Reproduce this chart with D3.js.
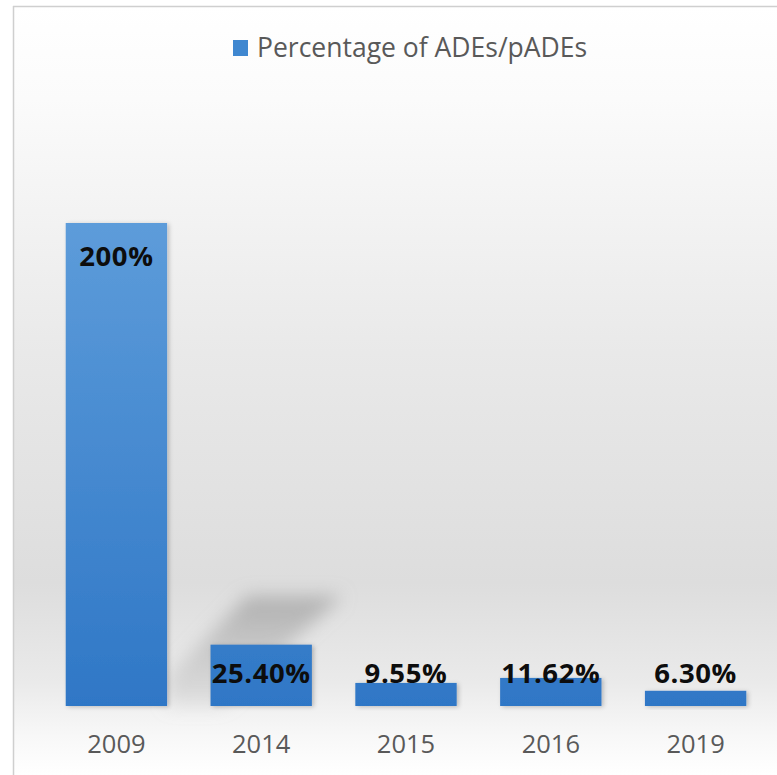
<!DOCTYPE html>
<html>
<head>
<meta charset="utf-8">
<script src="https://cdn.jsdelivr.net/npm/d3@7"></script>
<style>
  html, body { margin: 0; padding: 0; background: #ffffff; }
  svg { display: block; }
</style>
</head>
<body>
<svg id="chart" width="777" height="775"></svg>
<script>
// ---- data ----
const years = ["2009", "2014", "2015", "2016", "2019"];
const percentages = [200, 25.40, 9.55, 11.62, 6.30];
const valueLabels = ["200%", "25.40%", "9.55%", "11.62%", "6.30%"];
const seriesName = "Percentage of ADEs/pADEs";

const W = 777, H = 775;
const svg = d3.select("#chart");
const defs = svg.append("defs");

// background gradient
const bg = defs.append("linearGradient").attr("id", "bgGrad")
  .attr("x1", 0).attr("y1", 0).attr("x2", 0).attr("y2", 1);
[[0, "#ffffff"], [0.12, "#fbfbfb"], [0.45, "#e9e9e9"], [0.75, "#dddddd"], [0.88, "#eaeaea"], [0.95, "#f8f8f8"], [1, "#ffffff"]]
  .forEach(([o, c]) => bg.append("stop").attr("offset", o).attr("stop-color", c));

// bar gradient
const bgBar = defs.append("linearGradient").attr("id", "barGrad")
  .attr("gradientUnits", "userSpaceOnUse")
  .attr("x1", 0).attr("y1", 223).attr("x2", 0).attr("y2", 706);
bgBar.append("stop").attr("offset", 0).attr("stop-color", "#5d9cda");
bgBar.append("stop").attr("offset", 1).attr("stop-color", "#2f77c6");

// shadow gradient
const sg = defs.append("linearGradient").attr("id", "shGrad")
  .attr("x1", 0).attr("y1", 0).attr("x2", 0).attr("y2", 1);
sg.append("stop").attr("offset", 0).attr("stop-color", "#9a9a9a").attr("stop-opacity", 0.7);
sg.append("stop").attr("offset", 1).attr("stop-color", "#bdbdbd").attr("stop-opacity", 0.3);

const blur = defs.append("filter").attr("id", "blur")
  .attr("x", "-30%").attr("y", "-30%").attr("width", "160%").attr("height", "160%");
blur.append("feGaussianBlur").attr("stdDeviation", 9);

const drop = defs.append("filter").attr("id", "drop")
  .attr("x", "-20%").attr("y", "-20%").attr("width", "140%").attr("height", "140%");
drop.append("feDropShadow").attr("dx", 2).attr("dy", 1).attr("stdDeviation", 2)
  .attr("flood-color", "#000").attr("flood-opacity", 0.22);

// chart area background + border
svg.append("rect").attr("x", 13).attr("y", 6).attr("width", W - 13).attr("height", H - 6)
  .attr("fill", "url(#bgGrad)");
svg.append("line").attr("x1", 13).attr("y1", 6.5).attr("x2", W).attr("y2", 6.5)
  .attr("stroke", "#cfcfcf").attr("stroke-width", 1.5);
svg.append("line").attr("x1", 13.5).attr("y1", 6).attr("x2", 13.5).attr("y2", H)
  .attr("stroke", "#cfcfcf").attr("stroke-width", 1.5);

// scales
const x = d3.scaleBand().domain(years).range([44, 768]).paddingInner(0.3).paddingOuter(0.15);
const y = d3.scaleLinear().domain([0, 200]).range([706, 223]);

// oblique shadow of the tallest bar
const b0 = x(years[0]) + x.bandwidth();
svg.append("path")
  .attr("d", `M${b0},${y(0)} L${b0},${y(0) - 28} L${b0 + 80},${y(0) - 110} L${b0 + 175},${y(0) - 110} L${b0 + 55},${y(0)} Z`)
  .attr("fill", "url(#shGrad)")
  .attr("filter", "url(#blur)");

// bars
const data = years.map((yr, i) => ({ yr, v: percentages[i], label: valueLabels[i] }));
svg.append("g").selectAll("rect").data(data).join("rect")
  .attr("x", d => x(d.yr))
  .attr("y", d => y(d.v))
  .attr("width", x.bandwidth())
  .attr("height", d => y(0) - y(d.v))
  .attr("fill", "url(#barGrad)")
  .attr("filter", "url(#drop)");

// value labels
svg.append("g").selectAll("text").data(data).join("text")
  .attr("x", d => x(d.yr) + x.bandwidth() / 2)
  .attr("y", d => Math.min(y(d.v) + 43, y(0) - 23))
  .attr("text-anchor", "middle")
  .attr("font-family", "'Open Sans', sans-serif")
  .attr("font-weight", "bold")
  .attr("font-size", 27.5)
  .attr("letter-spacing", 0.6)
  .attr("fill", "#0d0d0d")
  .text(d => d.label);

// x axis
const xAxis = svg.append("g").attr("transform", `translate(0,${y(0)})`)
  .call(d3.axisBottom(x).tickSize(0).tickPadding(0));
xAxis.select(".domain").remove();
xAxis.selectAll("text")
  .attr("dy", null)
  .attr("y", 47)
  .attr("font-family", "'Open Sans', sans-serif")
  .attr("font-size", 25.5)
  .attr("fill", "#595959");

// legend
const lg = svg.append("g");
lg.append("rect").attr("x", 233).attr("y", 40).attr("width", 15).attr("height", 16)
  .attr("fill", "#3f87d0");
lg.append("text").attr("x", 257).attr("y", 57)
  .attr("font-family", "'Open Sans', sans-serif")
  .attr("font-size", 26.5)
  .attr("fill", "#595959")
  .text(seriesName);
</script>
</body>
</html>
